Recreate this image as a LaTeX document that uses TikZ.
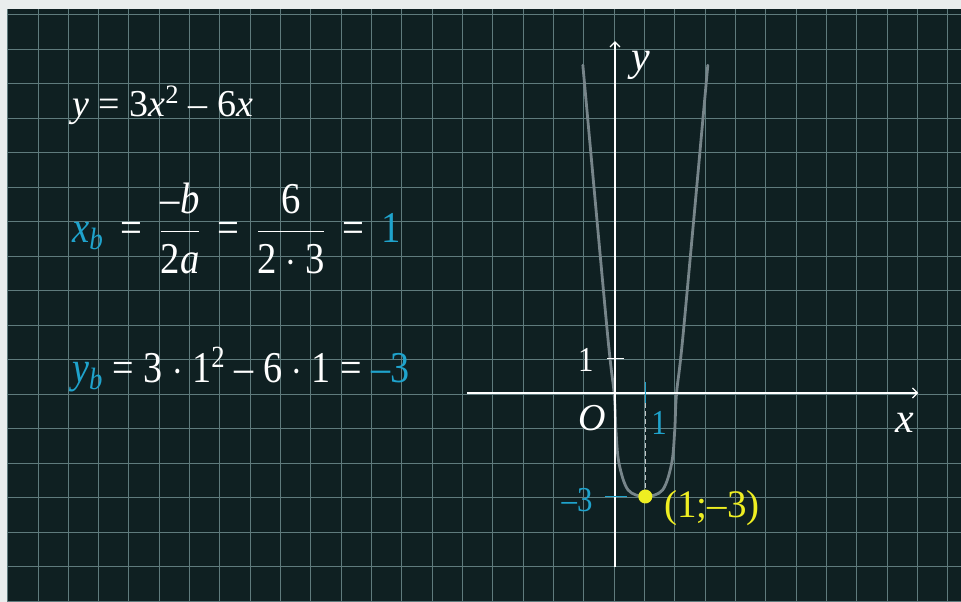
\RequirePackage{fix-cm}
\documentclass[tikz,border=0pt]{standalone}
\usepackage{amsmath}
\usepackage{fontspec}
\setmainfont{Liberation Serif}
\usetikzlibrary{arrows.meta}
\definecolor{board}{HTML}{0F2022}
\definecolor{frame}{HTML}{E9EDED}
\definecolor{gridline}{HTML}{5F7B7D}
\definecolor{curve}{HTML}{77858A}
\definecolor{accent}{HTML}{1FA3CC}
\definecolor{yell}{HTML}{EEEE22}
\newcommand\eqs{\mskip8mu\text{=}\mskip8mu}
\tikzset{
  formula/.style={anchor=base west,text=white,inner sep=0pt,
    font=\fontsize{38}{42}\selectfont},
  bigformula/.style={formula,xscale=0.88,font=\fontsize{44}{50}\selectfont},
  axis/.style={white,line width=1.2pt,-{Straight Barb[length=5pt,width=10pt]}},
  axislabel/.style={text=white,inner sep=0pt,font=\fontsize{42}{46}\selectfont\itshape},
  ticklabel/.style={text=white,xscale=0.88,inner sep=0pt,font=\fontsize{35}{40}\selectfont},
  ticks/.style={white,line width=1pt},
  marker/.style={accent,line width=1.6pt},
  guide/.style={draw=white!75!board,line width=1.3pt,dash pattern=on 5pt off 3pt},
  vertexdot/.style={circle,fill=yell,inner sep=0pt,minimum size=14pt}
}
\begin{document}
\begin{tikzpicture}[x=1pt,y=1pt]
  \useasboundingbox (0,0) rectangle (961,602);
  \fill[frame] (0,0) rectangle (961,602);
  \fill[board] (8,0) rectangle (961,593);
  \foreach \k in {0,...,31}
    \draw[gridline,line width=1pt] ({7.67+30.33*\k},0) -- ({7.67+30.33*\k},593);
  \foreach \k in {0,...,17}
    \draw[gridline,line width=1pt] (8,{587-34.5*\k}) -- (961,{587-34.5*\k});
  \node[formula] (eqn) at (72,485) {\textit{y} = 3\textit{x}\textsuperscript{2} – 6\textit{x}};
  \node[bigformula] (xb) at (72,359)
    {$\textcolor{accent}{\text{\textit{x}\textsubscript{\textit{b}}}}\eqs\dfrac{\text{–}\textit{b}}{\text{2}\textit{a}}
      \eqs\dfrac{\text{6}}{\text{2}\cdot\text{3}}\eqs\textcolor{accent}{\text{1}}$};
  \node[bigformula,xscale=0.985] (yb) at (72,219)
    {\textcolor{accent}{\textit{y}\textsubscript{\textit{b}}} = 3 $\cdot$ 1\textsuperscript{2} – 6 $\cdot$ 1 = \textcolor{accent}{–3}};
  \begin{scope}[shift={(615,209)},x=30.33pt,y=34.5pt]
    \coordinate (O) at (0,0);
    \coordinate (xl) at (-4.88,0);
    \coordinate (xr) at (10,0);
    \coordinate (yd) at (0,-5.05);
    \coordinate (yu) at (0,10.2);
    \draw[curve,line width=2.8pt,line cap=round] plot[smooth,tension=0.55] coordinates
      {(-1.06,9.5) (-0.26,1.83) (-0.03,0) (0.03,-1.07) (0.13,-2.03) (0.43,-2.81) (1,-3)
       (1.57,-2.81) (1.87,-2.03) (1.97,-1.07) (2.03,0) (2.26,1.83) (3.06,9.5)};
    \draw[axis] (xl) -- (xr);
    \draw[axis] (yd) -- (yu);
    \node[axislabel] (ylab) at (0.85,9.5) {y};
    \node[axislabel] (xlab) at (9.56,-0.87) {x};
    \node[axislabel,font=\fontsize{38}{44}\selectfont\itshape] (olab) at (-0.76,-0.72) {O};
    \draw[ticks] (-0.25,1) -- (0.3,1);
    \node[ticklabel] (one) at (-0.96,0.97) {1};
    \node[vertexdot] (vertex) at (1,-3) {};
    \coordinate (xtick) at (1,-0.29);
    \draw[guide] (xtick) -- (vertex);
    \draw[marker] (1,0.32) -- (xtick);
    \draw[marker] (-0.33,-3) -- (0.4,-3);
    \node[ticklabel,text=accent] (xone) at (1.45,-0.87) {1};
    \node[ticklabel,text=accent] (ythree) at (-1.25,-3.1) {–3};
    \node[ticklabel,xscale=1.136,text=yell,font=\fontsize{39}{42}\selectfont,anchor=west] (vlab) at (1.62,-3.33) {(1;–3)};
  \end{scope}
\end{tikzpicture}
\end{document}
